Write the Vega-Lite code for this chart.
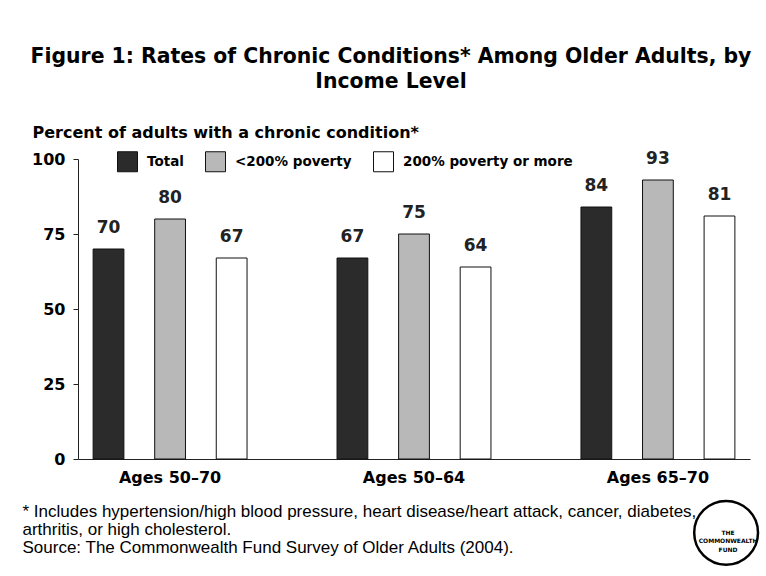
{
  "$schema": "https://vega.github.io/schema/vega-lite/v6.json",
  "width": 672,
  "height": 300,
  "autosize": {"type": "none"},
  "padding": {"left": 78, "top": 159, "right": 16, "bottom": 117},
  "background": "white",
  "title": {
    "text": ["Figure 1: Rates of Chronic Conditions* Among Older Adults, by", "Income Level"],
    "font": "DejaVu Sans",
    "fontSize": 20.4,
    "fontWeight": "bold",
    "lineHeight": 25,
    "color": "black",
    "anchor": "middle",
    "frame": "group",
    "dx": -23,
    "offset": 32
  },
  "datasets": {
    "rates": [
      {"age": "Ages 50\u201370", "group": "Total", "value": 70},
      {"age": "Ages 50\u201370", "group": "<200% poverty", "value": 80},
      {"age": "Ages 50\u201370", "group": "200% poverty or more", "value": 67},
      {"age": "Ages 50\u201364", "group": "Total", "value": 67},
      {"age": "Ages 50\u201364", "group": "<200% poverty", "value": 75},
      {"age": "Ages 50\u201364", "group": "200% poverty or more", "value": 64},
      {"age": "Ages 65\u201370", "group": "Total", "value": 84},
      {"age": "Ages 65\u201370", "group": "<200% poverty", "value": 93},
      {"age": "Ages 65\u201370", "group": "200% poverty or more", "value": 81}
    ]
  },
  "layer": [
    {
      "data": {"name": "rates"},
      "mark": {"type": "bar", "stroke": "#111111", "strokeWidth": 1},
      "encoding": {
        "x": {
          "field": "age", "type": "nominal",
          "scale": {"domain": ["Ages 50\u201370", "Ages 50\u201364", "Ages 65\u201370"], "paddingInner": 0.369, "paddingOuter": 0.062},
          "axis": {
            "labelAngle": 0,
            "labelFont": "DejaVu Sans", "labelFontSize": 16, "labelFontWeight": "bold", "labelColor": "black",
            "labelPadding": 10,
            "ticks": false,
            "domainColor": "#222222", "domainWidth": 1,
            "title": ["* Includes hypertension/high blood pressure, heart disease/heart attack, cancer, diabetes,", "arthritis, or high cholesterol.", "Source: The Commonwealth Fund Survey of Older Adults (2004)."],
            "titleFont": "Liberation Sans", "titleFontSize": 17, "titleFontWeight": "normal", "titleColor": "black",
            "titleLineHeight": 18,
            "titleAlign": "left", "titleAnchor": "start", "titleBaseline": "alphabetic",
            "titleX": -56, "titleY": 57, "titleLimit": 800
          }
        },
        "xOffset": {
          "field": "group", "type": "nominal",
          "scale": {"domain": ["Total", "<200% poverty", "200% poverty or more"], "paddingInner": 0.5, "paddingOuter": 0}
        },
        "y": {
          "field": "value", "type": "quantitative",
          "scale": {"domain": [0, 100], "nice": false, "zero": true},
          "axis": {
            "values": [0, 25, 50, 75, 100],
            "grid": false,
            "tickSize": 5, "tickColor": "#222222", "domainColor": "#222222",
            "labelFont": "DejaVu Sans", "labelFontSize": 16, "labelFontWeight": "bold", "labelColor": "black",
            "labelPadding": 8,
            "title": "Percent of adults with a chronic condition*",
            "titleFont": "DejaVu Sans", "titleFontSize": 16, "titleFontWeight": "bold", "titleColor": "black",
            "titleAngle": 0, "titleAlign": "left", "titleBaseline": "alphabetic",
            "titleX": -46, "titleY": -22, "titleLimit": 600
          }
        },
        "color": {
          "field": "group", "type": "nominal",
          "scale": {"domain": ["Total", "<200% poverty", "200% poverty or more"], "range": ["#2b2b2b", "#b8b8b8", "#ffffff"]},
          "legend": {
            "orient": "none", "legendX": 39, "legendY": -8, "direction": "horizontal",
            "title": null,
            "symbolType": "square", "symbolSize": 400,
            "symbolStrokeColor": "#111111", "symbolStrokeWidth": 1, "symbolOpacity": 1,
            "labelFont": "DejaVu Sans", "labelFontSize": 13.5, "labelFontWeight": "bold", "labelColor": "black",
            "labelOffset": 9, "columnPadding": 19, "padding": 0, "labelLimit": 400
          }
        }
      }
    },
    {
      "data": {"name": "rates"},
      "mark": {"type": "text", "font": "DejaVu Sans", "fontSize": 17, "fontWeight": "bold", "color": "#222222", "baseline": "alphabetic", "dy": -16},
      "encoding": {
        "x": {"field": "age", "type": "nominal"},
        "xOffset": {"field": "group", "type": "nominal"},
        "y": {"field": "value", "type": "quantitative"},
        "text": {"field": "value", "type": "quantitative"}
      }
    },
    {
      "data": {"values": [{"logo": "The Commonwealth Fund"}]},
      "mark": {"type": "point", "shape": "circle", "size": 4072, "filled": true, "fill": "white", "stroke": "black", "strokeWidth": 2.5, "opacity": 1},
      "encoding": {
        "x": {"datum": "Ages 65\u201370", "bandPosition": 0.943},
        "y": {"datum": -24.6}
      }
    },
    {
      "data": {"values": [{"logo": "The Commonwealth Fund"}]},
      "mark": {"type": "text", "text": ["THE", "COMMONWEALTH", "FUND"], "font": "DejaVu Sans", "fontSize": 6, "fontWeight": "bold", "lineHeight": 8.5, "color": "black", "align": "center", "baseline": "middle", "dx": 2},
      "encoding": {
        "x": {"datum": "Ages 65\u201370", "bandPosition": 0.943},
        "y": {"datum": -24.6}
      }
    }
  ],
  "config": {
    "view": {"stroke": null}
  }
}
